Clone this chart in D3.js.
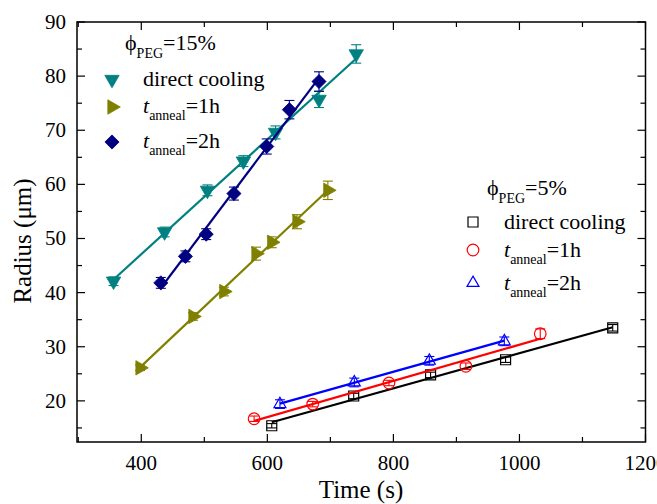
<!DOCTYPE html>
<html lang="en">
<head>
<meta charset="UTF-8">
<title>Radius vs time</title>
<style>
  body { margin: 0; background: #fff; overflow: hidden; }
  text { font-family: "Liberation Serif", "Times New Roman", serif; fill: #000; }
</style>
</head>
<body>
<script src="https://d3js.org/d3.v7.min.js"></script>
<script>
// phi_PEG = 15%
const t15Direct = [356, 437, 505, 562, 613, 682, 741];
const r15Direct = [42.1, 51.2, 58.9, 64.3, 69.6, 75.7, 84.1];
const e15Direct = [0.8, 0.9, 1.0, 1.0, 1.2, 1.5, 1.7];

const t15Anneal1 = [398, 482, 531, 582, 607, 647, 696];
const r15Anneal1 = [26.1, 35.6, 40.2, 47.2, 49.3, 53.1, 58.9];
const e15Anneal1 = [0.5, 0.7, 0.8, 1.2, 1.0, 1.3, 1.7];

const t15Anneal2 = [431, 470, 503, 547, 599, 635, 682];
const r15Anneal2 = [41.8, 46.7, 50.8, 58.3, 67.0, 73.8, 79.0];
const e15Anneal2 = [1.0, 1.0, 1.0, 1.2, 1.4, 1.7, 1.8];

// phi_PEG = 5%
const t5Direct = [607, 737, 859, 978, 1148];
const r5Direct = [15.4, 20.9, 24.8, 27.6, 33.5];
const e5Direct = [0.4, 0.5, 0.5, 0.5, 0.6];

const t5Anneal1 = [579, 672, 793, 915, 1033];
const r5Anneal1 = [16.7, 19.4, 23.3, 26.4, 32.4];
const e5Anneal1 = [0.5, 0.5, 0.5, 0.6, 0.9];

const t5Anneal2 = [620, 738, 857, 976];
const r5Anneal2 = [19.4, 23.4, 27.4, 31.0];
const e5Anneal2 = [0.8, 0.8, 0.8, 0.8];

const xTicks = [400, 600, 800, 1000, 1200];
const yTicks = [20, 30, 40, 50, 60, 70, 80, 90];

const width = 657, height = 504;
const svg = d3.select('body').append('svg')
    .attr('width', width)
    .attr('height', height);

const x = d3.scaleLinear().domain([298, 1200]).range([77, 645.5]);
const y = d3.scaleLinear().domain([12.4, 90]).range([442, 22]);

const series = [
  {t: t15Direct, r: r15Direct, e: e15Direct, color: '#008080', marker: 'down', fill: true},
  {t: t15Anneal1, r: r15Anneal1, e: e15Anneal1, color: '#808000', marker: 'right', fill: true},
  {t: t15Anneal2, r: r15Anneal2, e: e15Anneal2, color: '#000080', marker: 'diamond', fill: true},
  {t: t5Direct, r: r5Direct, e: e5Direct, color: '#000000', marker: 'square', fill: false},
  {t: t5Anneal1, r: r5Anneal1, e: e5Anneal1, color: '#ff0000', marker: 'circle', fill: false},
  {t: t5Anneal2, r: r5Anneal2, e: e5Anneal2, color: '#0000ff', marker: 'up', fill: false}
];

// least-squares fit line for each series
function fit(t, r) {
  const mx = d3.mean(t), my = d3.mean(r);
  let num = 0, den = 0;
  t.forEach((v, i) => { num += (v - mx) * (r[i] - my); den += (v - mx) * (v - mx); });
  const b = num / den;
  return v => my + b * (v - mx);
}

function drawMarker(g, type, color, fill) {
  let p;
  if (type === 'down' || type === 'up' || type === 'right') {
    p = g.append('path').attr('d', d3.symbol(d3.symbolTriangle, fill ? 90 : 62)());
    if (type === 'down') p.attr('transform', 'rotate(180)');
    if (type === 'right') p.attr('transform', 'rotate(90)');
  } else if (type === 'diamond') {
    p = g.append('path').attr('d', d3.symbol(d3.symbolSquare, 100)()).attr('transform', 'rotate(45)');
  } else if (type === 'square') {
    p = g.append('path').attr('d', d3.symbol(d3.symbolSquare, 100)());
  } else {
    p = g.append('circle').attr('r', 5.8);
  }
  p.attr('fill', fill ? color : 'none')
   .attr('stroke', color)
   .attr('stroke-width', fill ? 0.8 : 1.2);
}

const plot = svg.append('g');

series.forEach(s => {
  const f = fit(s.t, s.r);
  const [t0, t1] = d3.extent(s.t);
  plot.append('line')
    .attr('x1', x(t0)).attr('y1', y(f(t0)))
    .attr('x2', x(t1)).attr('y2', y(f(t1)))
    .attr('stroke', s.color)
    .attr('stroke-width', 2.2);

  const pts = s.t.map((v, i) => ({t: v, r: s.r[i], e: s.e[i]}));
  const eb = plot.append('g').attr('stroke', s.color).attr('stroke-width', 1.1).attr('fill', 'none');
  pts.forEach(d => {
    eb.append('line').attr('x1', x(d.t)).attr('x2', x(d.t)).attr('y1', y(d.r - d.e)).attr('y2', y(d.r + d.e));
    [d.r - d.e, d.r + d.e].forEach(v => {
      eb.append('line').attr('x1', x(d.t) - 5).attr('x2', x(d.t) + 5).attr('y1', y(v)).attr('y2', y(v));
    });
  });
  pts.forEach(d => {
    const g = plot.append('g').attr('transform', `translate(${x(d.t)},${y(d.r)})`);
    drawMarker(g, s.marker, s.color, s.fill);
  });
});

// axes, ticks inward on all four sides
const axes = svg.append('g');
axes.append('rect')
  .attr('x', 77).attr('y', 22)
  .attr('width', 645.5 - 77).attr('height', 442 - 22)
  .attr('fill', 'none').attr('stroke', '#000').attr('stroke-width', 1.5);

const xMinor = d3.range(300, 1201, 100);
xMinor.forEach(v => {
  const len = xTicks.includes(v) ? 8 : 5;
  axes.append('line').attr('x1', x(v)).attr('x2', x(v)).attr('y1', 442).attr('y2', 442 - len).attr('stroke', '#000').attr('stroke-width', 1.2);
  axes.append('line').attr('x1', x(v)).attr('x2', x(v)).attr('y1', 22).attr('y2', 22 + len).attr('stroke', '#000').attr('stroke-width', 1.2);
});
const yMinor = d3.range(15, 91, 5);
yMinor.forEach(v => {
  const len = yTicks.includes(v) ? 8 : 5;
  axes.append('line').attr('y1', y(v)).attr('y2', y(v)).attr('x1', 77).attr('x2', 77 + len).attr('stroke', '#000').attr('stroke-width', 1.2);
  axes.append('line').attr('y1', y(v)).attr('y2', y(v)).attr('x1', 645.5).attr('x2', 645.5 - len).attr('stroke', '#000').attr('stroke-width', 1.2);
});

// the 1200 label runs past the right edge, as in the original
xTicks.forEach(v => {
  axes.append('text').attr('x', x(v)).attr('y', 470).attr('text-anchor', 'middle')
    .attr('font-size', 21).text(v);
});
yTicks.forEach(v => {
  axes.append('text').attr('x', 66).attr('y', y(v) + 7).attr('text-anchor', 'end')
    .attr('font-size', 21).text(v);
});

svg.append('text').attr('x', 361).attr('y', 498).attr('text-anchor', 'middle')
  .attr('font-size', 25).text('Time (s)');
svg.append('text').attr('transform', 'translate(31,241) rotate(-90)').attr('text-anchor', 'middle')
  .attr('font-size', 25).text('Radius (\u03bcm)');

// legends
function phiLabel(xp, yp, pct) {
  const t = svg.append('text').attr('x', xp).attr('y', yp).attr('font-size', 22);
  t.append('tspan').text('\u03d5');
  t.append('tspan').attr('font-size', 14).attr('dy', 8).text('PEG');
  t.append('tspan').attr('dy', -8).text('=' + pct);
}
function legendText(xp, yp, hours) {
  const t = svg.append('text').attr('x', xp).attr('y', yp).attr('font-size', 22);
  if (hours === null) { t.text('direct cooling'); return; }
  t.append('tspan').attr('font-style', 'italic').text('t');
  t.append('tspan').attr('font-size', 14).attr('dy', 7).text('anneal');
  t.append('tspan').attr('dy', -7).text('=' + hours + 'h');
}

const legendLabels = [null, 1, 2];
phiLabel(125, 50, '15%');
[85.5, 113, 148].forEach((yy, i) => {
  const s = series[i];
  drawMarker(svg.append('g').attr('transform', `translate(112,${yy - 6})`), s.marker, s.color, s.fill);
  legendText(143, yy, legendLabels[i]);
});

phiLabel(487, 195, '5%');
[229, 257, 290].forEach((yy, i) => {
  const s = series[i + 3];
  drawMarker(svg.append('g').attr('transform', `translate(473,${yy - 7})`), s.marker, s.color, s.fill);
  legendText(504, yy, legendLabels[i]);
});
</script>
</body>
</html>
